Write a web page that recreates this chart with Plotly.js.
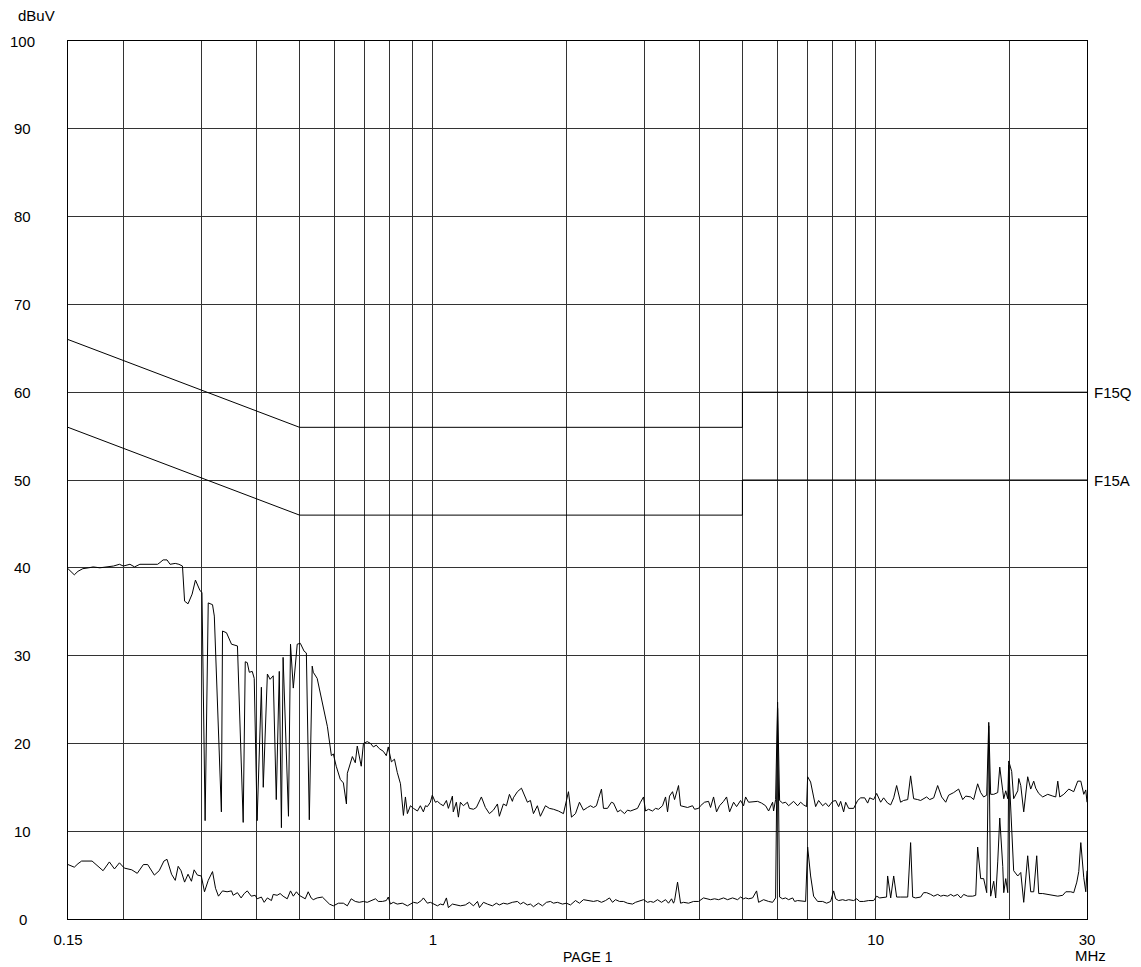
<!DOCTYPE html>
<html>
<head>
<meta charset="utf-8">
<script src="https://cdn.plot.ly/plotly-3.0.1.min.js"></script>
<style>
  html, body { margin: 0; padding: 0; background: #fff; }
  #chart { width: 1141px; height: 967px; }
</style>
</head>
<body>
<div id="chart"></div>
<script>
// ---------- data (frequency in MHz, level in dBuV) ----------
const upperTrace = [
  [0.150,39.9],[0.155,39.2],[0.158,39.6],[0.162,39.9],[0.167,40.0],[0.171,40.1],[0.177,40.0],[0.183,40.1],[0.190,40.2],[0.196,40.4],
  [0.200,40.2],[0.207,40.4],[0.212,40.1],[0.218,40.4],[0.224,40.4],[0.230,40.4],[0.239,40.4],[0.242,40.6],[0.246,40.9],[0.251,40.9],
  [0.255,40.4],[0.262,40.5],[0.267,40.4],[0.272,40.2],[0.275,36.2],[0.280,35.9],[0.286,37.0],[0.291,38.6],[0.298,37.4],[0.301,37.2],
  [0.306,11.2],[0.311,36.0],[0.318,35.8],[0.321,34.5],[0.333,12.2],[0.335,32.8],[0.342,32.6],[0.351,31.3],[0.362,31.1],[0.373,11.0],
  [0.377,29.3],[0.381,29.2],[0.385,28.1],[0.391,28.2],[0.395,27.4],[0.401,11.2],[0.410,26.4],[0.414,15.0],[0.423,27.9],[0.429,27.3],
  [0.436,27.7],[0.443,13.6],[0.450,28.2],[0.455,10.4],[0.459,29.8],[0.472,11.7],[0.477,31.3],[0.484,26.3],[0.494,31.3],[0.502,31.4],
  [0.512,30.5],[0.518,30.3],[0.526,11.3],[0.534,28.8],[0.537,28.1],[0.548,27.4],[0.560,25.1],[0.569,23.6],[0.578,21.9],[0.590,18.6],
  [0.596,18.8],[0.605,17.4],[0.618,15.9],[0.628,15.5],[0.638,13.1],[0.641,16.6],[0.658,18.5],[0.668,17.8],[0.675,19.7],[0.689,17.4],
  [0.697,20.0],[0.711,20.2],[0.723,20.0],[0.734,19.6],[0.745,19.8],[0.757,19.4],[0.773,19.1],[0.785,18.6],[0.793,19.6],[0.806,17.9],
  [0.819,18.2],[0.831,16.7],[0.845,15.4],[0.858,11.8],[0.867,13.9],[0.876,12.0],[0.890,12.9],[0.904,12.6],[0.923,12.3],[0.937,12.9],
  [0.952,12.2],[0.962,12.9],[0.972,12.8],[0.987,13.3],[0.997,14.1],[1.013,13.3],[1.024,13.4],[1.040,13.1],[1.056,12.9],[1.073,13.5],
  [1.084,12.6],[1.107,14.0],[1.112,12.2],[1.130,13.3],[1.142,11.6],[1.154,13.3],[1.172,12.9],[1.197,13.3],[1.209,12.6],[1.235,12.5],
  [1.254,12.7],[1.287,13.9],[1.314,12.7],[1.342,12.0],[1.370,12.4],[1.399,13.1],[1.413,11.7],[1.443,13.1],[1.466,12.9],[1.489,14.2],
  [1.512,13.4],[1.520,13.8],[1.552,14.5],[1.585,14.9],[1.610,14.0],[1.635,13.3],[1.661,13.5],[1.687,12.0],[1.722,12.9],[1.749,11.7],
  [1.796,12.9],[1.833,12.6],[1.872,12.5],[1.921,12.3],[1.972,12.0],[2.003,13.7],[2.024,14.5],[2.056,11.6],[2.099,12.0],[2.143,13.3],
  [2.188,12.4],[2.234,12.7],[2.269,12.9],[2.305,12.7],[2.341,12.9],[2.366,13.7],[2.403,14.8],[2.428,12.6],[2.479,12.6],[2.531,13.3],
  [2.558,13.2],[2.612,12.2],[2.653,12.4],[2.709,12.0],[2.751,12.4],[2.794,12.3],[2.838,12.4],[2.898,12.6],[2.944,13.3],[2.990,13.9],
  [3.021,12.3],[3.069,12.5],[3.133,12.3],[3.183,12.6],[3.233,12.5],[3.301,12.9],[3.353,13.9],[3.388,12.2],[3.423,14.0],[3.477,14.5],
  [3.514,13.6],[3.550,14.5],[3.587,15.2],[3.625,12.9],[3.682,12.8],[3.759,12.7],[3.858,12.9],[3.899,12.5],[3.981,12.6],[4.022,12.9],
  [4.107,13.3],[4.193,13.4],[4.237,12.7],[4.304,13.9],[4.371,12.2],[4.440,12.9],[4.533,13.4],[4.605,13.9],[4.678,12.2],[4.776,13.3],
  [4.851,12.8],[4.953,13.5],[5.031,12.9],[5.084,13.9],[5.163,13.3],[5.299,13.4],[5.411,13.4],[5.525,13.2],[5.641,12.9],[5.730,12.3],
  [5.850,13.3],[5.880,12.3],[5.942,13.6],[6.004,24.7],[6.067,13.5],[6.163,13.2],[6.260,13.3],[6.358,12.9],[6.525,13.4],[6.663,12.9],
  [6.768,13.3],[6.874,13.0],[6.982,12.8],[7.019,16.2],[7.129,15.6],[7.241,13.9],[7.317,12.8],[7.432,13.5],[7.589,12.9],[7.708,13.2],
  [7.829,12.8],[7.994,13.4],[8.120,13.5],[8.247,12.8],[8.334,13.4],[8.464,12.2],[8.554,13.3],[8.688,12.6],[8.917,12.6],[9.104,13.5],
  [9.248,13.8],[9.443,13.8],[9.591,13.2],[9.691,13.8],[9.894,13.6],[10.05,14.3],[10.26,13.3],[10.42,13.8],[10.64,13.2],[10.81,13.0],
  [10.98,13.8],[11.15,15.2],[11.38,13.3],[11.56,13.5],[11.81,13.6],[11.99,16.3],[12.18,13.7],[12.44,13.6],[12.63,13.5],[13.03,13.9],
  [13.24,13.6],[13.52,13.8],[13.80,15.2],[14.09,13.9],[14.39,13.3],[14.61,14.1],[15.00,14.4],[15.39,14.8],[15.72,13.6],[15.97,14.0],
  [16.39,13.9],[16.64,13.6],[16.99,15.4],[17.26,14.4],[17.53,13.9],[17.81,14.1],[18.00,22.4],[18.18,14.2],[18.47,14.2],[18.86,14.4],
  [19.06,17.3],[19.36,14.6],[19.46,13.7],[19.66,14.6],[19.87,13.7],[19.97,18.0],[20.28,16.8],[20.49,13.7],[20.93,14.6],[21.04,16.0],
  [21.26,15.2],[21.59,12.2],[22.04,16.2],[22.39,14.8],[22.74,15.7],[22.98,14.9],[23.34,14.3],[23.83,13.9],[24.46,14.2],[25.11,14.0],
  [25.50,13.9],[25.77,15.7],[26.04,13.9],[26.59,14.2],[27.29,14.8],[28.00,14.5],[28.59,15.7],[29.05,15.7],[29.50,14.2],[29.81,14.7],
  [30.0,13.3]
];

const lowerTrace = [
  [0.150,6.2],[0.155,5.9],[0.158,6.3],[0.161,6.6],[0.170,6.6],[0.175,6.0],[0.180,5.5],[0.186,6.5],[0.191,5.7],[0.196,6.4],
  [0.201,5.8],[0.209,5.6],[0.215,5.2],[0.222,6.2],[0.227,6.2],[0.235,5.0],[0.241,5.5],[0.247,6.6],[0.251,6.8],[0.257,5.1],
  [0.262,4.4],[0.266,6.0],[0.270,5.5],[0.275,4.2],[0.280,5.1],[0.285,4.3],[0.289,5.6],[0.294,5.0],[0.300,4.9],[0.305,3.1],
  [0.311,4.4],[0.318,5.4],[0.323,3.5],[0.328,2.6],[0.335,3.2],[0.343,3.1],[0.351,3.2],[0.354,2.7],[0.362,3.0],[0.369,2.4],
  [0.375,2.9],[0.381,3.2],[0.389,2.6],[0.397,2.7],[0.401,2.3],[0.410,2.5],[0.416,1.9],[0.423,2.4],[0.432,2.1],[0.436,2.8],
  [0.445,2.7],[0.452,2.9],[0.459,2.6],[0.469,2.3],[0.477,3.2],[0.484,2.6],[0.492,3.1],[0.499,2.7],[0.507,2.5],[0.515,2.3],
  [0.523,3.1],[0.531,2.4],[0.537,2.2],[0.548,2.4],[0.563,2.5],[0.575,2.1],[0.584,1.7],[0.596,1.5],[0.612,1.8],[0.628,1.8],
  [0.641,1.5],[0.654,2.3],[0.668,2.0],[0.682,1.9],[0.697,2.0],[0.711,1.9],[0.730,2.1],[0.742,2.3],[0.753,2.0],[0.769,2.0],
  [0.785,2.1],[0.793,2.5],[0.802,1.7],[0.814,1.9],[0.831,1.7],[0.853,1.8],[0.876,1.5],[0.890,1.7],[0.904,1.9],[0.923,1.8],
  [0.942,2.1],[0.952,2.4],[0.972,1.8],[0.987,1.9],[1.003,1.7],[1.024,1.5],[1.040,1.7],[1.056,1.6],[1.073,2.4],[1.084,1.3],
  [1.107,1.7],[1.136,1.6],[1.154,1.5],[1.184,1.6],[1.209,1.9],[1.235,1.5],[1.261,2.0],[1.274,1.3],[1.301,1.9],[1.328,1.7],
  [1.363,1.5],[1.391,1.8],[1.413,1.6],[1.443,1.8],[1.473,1.7],[1.512,1.9],[1.552,2.0],[1.577,1.7],[1.601,1.9],[1.635,1.6],
  [1.661,1.7],[1.687,1.4],[1.731,1.8],[1.768,1.5],[1.805,1.9],[1.843,2.0],[1.872,1.8],[1.911,1.9],[1.962,1.7],[2.003,1.8],
  [2.045,1.6],[2.099,2.1],[2.143,1.8],[2.188,2.2],[2.246,2.1],[2.305,2.0],[2.354,2.1],[2.403,1.9],[2.454,2.1],[2.505,2.4],
  [2.545,1.9],[2.585,2.2],[2.639,2.0],[2.694,2.0],[2.751,1.8],[2.824,1.7],[2.868,1.9],[2.913,2.0],[2.990,2.2],[3.053,1.9],
  [3.101,2.0],[3.150,1.9],[3.216,2.2],[3.283,1.9],[3.353,2.2],[3.405,1.8],[3.459,2.3],[3.495,1.8],[3.514,2.1],[3.569,4.2],
  [3.625,1.8],[3.682,1.9],[3.779,1.8],[3.878,2.0],[3.981,2.0],[4.085,2.4],[4.171,2.3],[4.237,2.2],[4.326,2.3],[4.417,2.2],
  [4.533,2.4],[4.629,2.2],[4.751,2.4],[4.876,2.2],[4.953,2.5],[5.031,2.3],[5.084,2.4],[5.163,2.3],[5.272,2.4],[5.383,3.2],
  [5.439,1.9],[5.582,2.2],[5.730,2.0],[5.850,1.9],[5.942,2.4],[6.004,24.0],[6.067,2.5],[6.163,2.3],[6.260,2.4],[6.358,2.2],
  [6.492,2.4],[6.560,2.0],[6.663,2.1],[6.839,2.0],[6.946,2.0],[7.019,8.2],[7.129,4.9],[7.241,2.6],[7.394,2.0],[7.589,2.0],
  [7.748,1.8],[7.911,2.0],[8.035,3.2],[8.120,2.3],[8.247,2.1],[8.421,2.2],[8.554,2.1],[8.688,2.2],[8.917,2.1],[9.057,2.3],
  [9.200,2.0],[9.393,2.0],[9.640,2.1],[9.894,2.1],[10.05,2.6],[10.21,2.4],[10.42,2.5],[10.58,2.5],[10.64,4.9],[10.81,2.4],
  [10.98,4.9],[11.15,2.5],[11.38,2.5],[11.56,2.5],[11.81,2.5],[11.99,8.7],[12.12,2.5],[12.31,2.4],[12.63,2.5],[12.83,3.0],
  [13.03,3.0],[13.31,2.8],[13.52,2.6],[13.80,2.8],[14.02,2.6],[14.24,2.7],[14.54,2.6],[14.77,2.8],[15.00,2.6],[15.31,2.8],
  [15.56,2.4],[15.80,2.8],[16.13,2.6],[16.56,2.6],[16.82,2.7],[16.99,8.2],[17.26,4.6],[17.53,4.6],[17.81,3.0],[18.00,22.0],
  [18.18,2.6],[18.47,4.3],[18.66,2.4],[18.86,6.5],[19.06,11.5],[19.36,6.0],[19.46,3.0],[19.66,4.6],[19.87,3.0],[19.97,17.5],
  [20.18,13.0],[20.49,5.5],[20.93,4.9],[21.26,5.3],[21.59,1.9],[22.04,7.2],[22.39,3.1],[22.74,3.1],[23.10,7.2],[23.34,2.9],
  [23.83,2.9],[24.46,2.8],[25.11,2.7],[25.77,2.6],[26.45,2.7],[26.87,3.1],[27.57,3.1],[28.00,3.0],[28.45,4.2],[28.74,5.4],
  [29.05,8.7],[29.50,4.7],[29.81,3.1],[30.0,5.5]
];

// limit lines
const limitFreq = [0.15, 0.5, 5, 5, 30];
const limitQP   = [66, 56, 56, 60, 60];   // F15Q
const limitAV   = [56, 46, 46, 50, 50];   // F15A
const limitNames = ['F15Q', 'F15A'];
const limitLabelLevel = [60, 50];

// axis ticks
const xTickVals = [0.15,0.2,0.3,0.4,0.5,0.6,0.7,0.8,0.9,1,2,3,4,5,6,7,8,9,10,20,30];
const xTickText = ['0.15','','','','','','','','','1','','','','','','','','','10','','30'];
const yTickVals = [0,10,20,30,40,50,60,70,80,90,100];
const yTickText = ['0','10','20','30','40','50','60','70','80','90','100'];
const yUnit = 'dBuV';
const xUnit = 'MHz';
const pageLabel = 'PAGE 1';

// ---------- plot ----------
const line = {color: '#000', width: 1};
const traces = [
  {x: upperTrace.map(p => p[0]), y: upperTrace.map(p => p[1]), type: 'scatter', mode: 'lines', line: line, hoverinfo: 'skip'},
  {x: lowerTrace.map(p => p[0]), y: lowerTrace.map(p => p[1]), type: 'scatter', mode: 'lines', line: line, hoverinfo: 'skip'},
  {x: limitFreq, y: limitQP, type: 'scatter', mode: 'lines', line: line, hoverinfo: 'skip'},
  {x: limitFreq, y: limitAV, type: 'scatter', mode: 'lines', line: line, hoverinfo: 'skip'}
];

const FONT = 'Liberation Sans, Arial, Helvetica, sans-serif';
const annotations = [];
yTickVals.forEach((v, i) => {
  annotations.push({xref: 'paper', yref: 'y', x: -0.0442, y: v, text: yTickText[i],
    showarrow: false, xanchor: 'center', yanchor: 'middle', font: {family: FONT, size: 15, color: '#000'}});
});
limitNames.forEach((n, i) => {
  annotations.push({xref: 'paper', yref: 'y', x: 1, y: limitLabelLevel[i], text: n, xshift: 5,
    showarrow: false, xanchor: 'left', yanchor: 'middle', font: {family: FONT, size: 15, color: '#000'}});
});
annotations.push({xref: 'paper', yref: 'paper', x: -0.031, y: 1.0285, text: yUnit, showarrow: false,
  xanchor: 'center', yanchor: 'middle', font: {family: FONT, size: 15, color: '#000'}});
annotations.push({xref: 'paper', yref: 'paper', x: 1.0039, y: -0.042, text: xUnit, showarrow: false,
  xanchor: 'center', yanchor: 'middle', font: {family: FONT, size: 15, color: '#000'}});
annotations.push({xref: 'paper', yref: 'paper', x: 0.5105, y: -0.0546, text: pageLabel, showarrow: false,
  xanchor: 'center', yanchor: 'bottom', font: {family: FONT, size: 14, color: '#000'}});

const layout = {
  width: 1141, height: 967,
  margin: {l: 68, r: 54, t: 41, b: 48, pad: 0},
  paper_bgcolor: '#fff', plot_bgcolor: '#fff',
  showlegend: false,
  font: {family: FONT, size: 15, color: '#000'},
  xaxis: {
    type: 'log', range: [Math.log10(0.15), Math.log10(30)],
    tickmode: 'array', tickvals: xTickVals, ticktext: xTickText,
    showgrid: true, gridcolor: '#333', gridwidth: 1,
    showline: true, mirror: true, linecolor: '#000', linewidth: 1,
    ticks: '', zeroline: false, ticklabelstandoff: 7,
    tickfont: {family: FONT, size: 15, color: '#000'}
  },
  yaxis: {
    range: [0, 100], tickmode: 'array', tickvals: yTickVals, showticklabels: false,
    showgrid: true, gridcolor: '#333', gridwidth: 1,
    showline: true, mirror: true, linecolor: '#000', linewidth: 1,
    ticks: '', zeroline: false
  },
  annotations: annotations
};

Plotly.newPlot('chart', traces, layout, {staticPlot: true, displayModeBar: false});
</script>
</body>
</html>
